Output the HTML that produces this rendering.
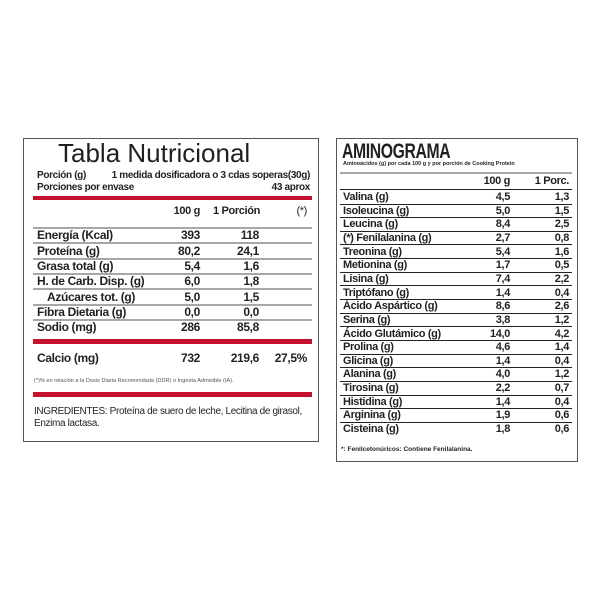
<!DOCTYPE html>
<html><head><meta charset="utf-8"><style>
*{margin:0;padding:0;box-sizing:border-box}
body{width:600px;height:600px;background:#fff;position:relative;overflow:hidden;font-family:"Liberation Sans",sans-serif;color:#231f20}
.box{position:absolute;border:1.5px solid #555}
.t{position:absolute;white-space:nowrap;font-weight:bold;font-size:11px;line-height:14px;letter-spacing:-0.35px}
.r{text-align:right}
.gl{position:absolute;height:2px;background:#a7a7a7}
.bl{position:absolute;height:1px;background:#222}
.red{position:absolute;background:#c4122f}
</style></head><body>
<div class="box" style="left:23px;top:138px;width:296px;height:304px"></div>
<div class="box" style="left:336px;top:138px;width:242px;height:324px"></div>

<div class="t" style="left:58px;top:137px;font-size:26px;line-height:32px;font-weight:normal;letter-spacing:0">Tabla Nutricional</div>
<div class="t" style="left:37px;top:169px;font-size:10px">Porción (g)</div>
<div class="t r" style="right:290px;top:169px;font-size:10px">1 medida dosificadora o 3 cdas soperas(30g)</div>
<div class="t" style="left:37px;top:181px;font-size:10px">Porciones por envase</div>
<div class="t r" style="right:290px;top:181px;font-size:10px">43 aprox</div>
<div class="red" style="left:33px;top:196px;width:279px;height:4px"></div>
<div class="t r" style="right:400px;top:204px">100 g</div>
<div class="t r" style="right:340px;top:204px">1 Porción</div>
<div class="t r" style="right:293px;top:204px;font-weight:normal">(*)</div>
<div class="gl" style="left:33px;top:227px;width:279px"></div>

<div class="t" style="left:37px;top:228px;font-size:12px">Energía (Kcal)</div><div class="t r" style="right:400px;top:228px;font-size:12px">393</div><div class="t r" style="right:341px;top:228px;font-size:12px">118</div>
<div class="gl" style="left:33px;top:242px;width:279px"></div>
<div class="t" style="left:37px;top:244px;font-size:12px">Proteína (g)</div><div class="t r" style="right:400px;top:244px;font-size:12px">80,2</div><div class="t r" style="right:341px;top:244px;font-size:12px">24,1</div>
<div class="gl" style="left:33px;top:258px;width:279px"></div>
<div class="t" style="left:37px;top:259px;font-size:12px">Grasa total (g)</div><div class="t r" style="right:400px;top:259px;font-size:12px">5,4</div><div class="t r" style="right:341px;top:259px;font-size:12px">1,6</div>
<div class="gl" style="left:33px;top:273px;width:279px"></div>
<div class="t" style="left:37px;top:274px;font-size:12px">H. de Carb. Disp. (g)</div><div class="t r" style="right:400px;top:274px;font-size:12px">6,0</div><div class="t r" style="right:341px;top:274px;font-size:12px">1,8</div>
<div class="gl" style="left:33px;top:288px;width:279px"></div>
<div class="t" style="left:47px;top:290px;font-size:12px">Azúcares tot. (g)</div><div class="t r" style="right:400px;top:290px;font-size:12px">5,0</div><div class="t r" style="right:341px;top:290px;font-size:12px">1,5</div>
<div class="gl" style="left:33px;top:304px;width:279px"></div>
<div class="t" style="left:37px;top:305px;font-size:12px">Fibra Dietaria (g)</div><div class="t r" style="right:400px;top:305px;font-size:12px">0,0</div><div class="t r" style="right:341px;top:305px;font-size:12px">0,0</div>
<div class="gl" style="left:33px;top:319px;width:279px"></div>
<div class="t" style="left:37px;top:320px;font-size:12px">Sodio (mg)</div><div class="t r" style="right:400px;top:320px;font-size:12px">286</div><div class="t r" style="right:341px;top:320px;font-size:12px">85,8</div>
<div class="red" style="left:33px;top:339px;width:279px;height:5px"></div>
<div class="t" style="left:37px;top:351px;font-size:12px">Calcio (mg)</div><div class="t r" style="right:400px;top:351px;font-size:12px">732</div><div class="t r" style="right:341px;top:351px;font-size:12px">219,6</div><div class="t r" style="right:293px;top:351px;font-size:12px">27,5%</div>
<div class="t" style="left:34px;top:374px;font-size:5.6px;font-weight:normal;letter-spacing:0;color:#555">(*)% en relación a la Dosis Diaria Recomendada (DDR) o Ingesta Admisible (IA).</div>
<div class="red" style="left:33px;top:392px;width:279px;height:5px"></div>
<div class="t" style="left:34px;top:405px;font-size:10px;font-weight:normal;letter-spacing:-0.35px">INGREDIENTES: Proteína de suero de leche, Lecitina de girasol,</div>
<div class="t" style="left:34px;top:417px;font-size:10px;font-weight:normal;letter-spacing:-0.35px">Enzima lactasa.</div>

<div class="t" style="left:342px;top:140px;font-size:21px;line-height:24px;font-weight:bold;letter-spacing:-0.5px;transform:scaleX(0.75);transform-origin:left">AMINOGRAMA</div>
<div class="t" style="left:343px;top:161px;font-size:5.5px;line-height:7px;letter-spacing:0">Aminoácidos (g) por cada 100 g y por porción de Cooking Protein</div>
<div class="gl" style="left:340px;top:172px;width:232px"></div>
<div class="t r" style="right:90px;top:174px">100 g</div>
<div class="t r" style="right:31px;top:174px">1 Porc.</div>
<div class="bl" style="left:340px;top:189px;width:232px"></div>

<div id="rows"></div>
<div class="t" style="left:341px;top:446px;font-size:6.5px;line-height:8px;letter-spacing:0">*: Fenilcetonúricos: Contiene Fenilalanina.</div>
<script>
var d=[["Valina (g)","4,5","1,3"],["Isoleucina (g)","5,0","1,5"],["Leucina (g)","8,4","2,5"],["(*) Fenilalanina (g)","2,7","0,8"],["Treonina (g)","5,4","1,6"],["Metionina (g)","1,7","0,5"],["Lisina (g)","7,4","2,2"],["Triptófano (g)","1,4","0,4"],["Ácido Aspártico (g)","8,6","2,6"],["Serina (g)","3,8","1,2"],["Ácido Glutámico (g)","14,0","4,2"],["Prolina (g)","4,6","1,4"],["Glicina (g)","1,4","0,4"],["Alanina (g)","4,0","1,2"],["Tirosina (g)","2,2","0,7"],["Histidina (g)","1,4","0,4"],["Arginina (g)","1,9","0,6"],["Cisteina (g)","1,8","0,6"]];
var h="";
for(var i=0;i<d.length;i++){var c=197+i*13.65;var t=c-7;
h+='<div class="t" style="left:343px;top:'+t+'px">'+d[i][0]+'</div><div class="t r" style="right:90px;top:'+t+'px">'+d[i][1]+'</div><div class="t r" style="right:31px;top:'+t+'px">'+d[i][2]+'</div>';
if(i<d.length-1)h+='<div class="bl" style="left:340px;top:'+(c+6.5)+'px;width:232px"></div>';}
document.getElementById("rows").innerHTML=h;
</script>
</body></html>
